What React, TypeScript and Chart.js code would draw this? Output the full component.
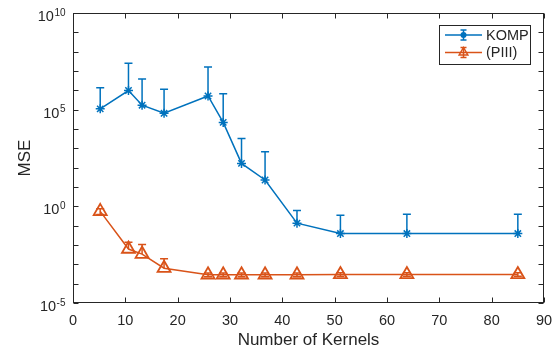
import React, { useEffect, useRef } from 'react';
import { Chart, registerables } from 'chart.js';

Chart.register(...registerables);

// ---- data ----
const kernels = [5.2, 10.6, 13.2, 17.4, 25.8, 28.7, 32.2, 36.7, 42.8, 51.1, 63.8, 85.0];
const kompMse = [1.1e5, 9.8e5, 1.7e5, 6.5e4, 5.1e5, 2.2e4, 166, 23, 0.135, 0.039, 0.039, 0.039];
const kompUpper = [1.35e6, 2.5e7, 3.8e6, 1.15e6, 1.6e7, 6.6e5, 3.2e3, 660, 0.6, 0.35, 0.39, 0.39];
const piiiMse = [0.55, 0.0062, 0.0034, 0.00063, 0.00029, 0.00029, 0.00029, 0.00029, 0.00029, 0.0003, 0.0003, 0.0003];
const piiiUpper = [0.75, 0.014, 0.0105, 0.00195, 0.00036, 0.00036, 0.00036, 0.00036, 0.00036, 0.00037, 0.00037, 0.00037];
const piiiLower = [0.38, null, null, null, 0.00023, 0.00023, 0.00023, 0.00023, 0.00023, 0.00024, 0.00024, 0.00024];
const xTicks = [0, 10, 20, 30, 40, 50, 60, 70, 80, 90];
const yTickExponents = [-5, 0, 5, 10];
const yMinorExponents = [-5, -4, -3, -2, -1, 0, 1, 2, 3, 4, 5, 6, 7, 8, 9, 10];
const seriesNames = ['KOMP', '(PIII)'];
const xTitle = 'Number of Kernels';
const yTitle = 'MSE';

const BLUE = '#0072BD';
const ORANGE = '#D95319';
const AXIS = '#262626';
const FONT = '"Liberation Sans", Arial, Helvetica, sans-serif';

function drawTriangle(ctx: CanvasRenderingContext2D, x: number, y: number, r: number) {
  ctx.beginPath();
  ctx.moveTo(x, y - r);
  ctx.lineTo(x + r * 0.866, y + r * 0.5);
  ctx.lineTo(x - r * 0.866, y + r * 0.5);
  ctx.closePath();
  ctx.stroke();
}

const matlabPlugin = {
  id: 'matlabAxes',
  beforeDatasetsDraw(chart: any) {
    const { ctx, scales } = chart;
    const xs = scales.x;
    const ys = scales.y;
    const groups = [
      { color: BLUE, mean: kompMse, upper: kompUpper, lower: null as (number | null)[] | null },
      { color: ORANGE, mean: piiiMse, upper: piiiUpper, lower: piiiLower },
    ];
    ctx.save();
    ctx.lineWidth = 1.5;
    const cap = 4;
    for (const g of groups) {
      ctx.strokeStyle = g.color;
      for (let i = 0; i < kernels.length; i++) {
        const px = xs.getPixelForValue(kernels[i]);
        const pm = ys.getPixelForValue(g.mean[i]);
        const pu = ys.getPixelForValue(g.upper[i]);
        const lv = g.lower ? g.lower[i] : null;
        const pl = lv != null ? ys.getPixelForValue(lv) : pm;
        ctx.beginPath();
        ctx.moveTo(px, pl);
        ctx.lineTo(px, pu);
        ctx.moveTo(px - cap, pu);
        ctx.lineTo(px + cap, pu);
        if (lv != null) {
          ctx.moveTo(px - cap, pl);
          ctx.lineTo(px + cap, pl);
        }
        ctx.stroke();
      }
    }
    ctx.restore();
  },
  afterDraw(chart: any) {
    const { ctx, chartArea, scales } = chart;
    const xs = scales.x;
    const ys = scales.y;
    const L = Math.round(chartArea.left) + 0.5;
    const R = Math.round(chartArea.right) - 0.5;
    const T = Math.round(chartArea.top) + 0.5;
    const B = Math.round(chartArea.bottom) - 0.5;
    ctx.save();
    // frame
    ctx.strokeStyle = AXIS;
    ctx.lineWidth = 1;
    ctx.strokeRect(L, T, R - L, B - T);
    // ticks
    const tl = 5;
    ctx.beginPath();
    for (const v of xTicks) {
      const px = Math.round(xs.getPixelForValue(v)) + 0.5;
      ctx.moveTo(px, B); ctx.lineTo(px, B - tl);
      ctx.moveTo(px, T); ctx.lineTo(px, T + tl);
    }
    for (const e of yMinorExponents) {
      const py = Math.round(ys.getPixelForValue(Math.pow(10, e))) + 0.5;
      ctx.moveTo(L, py); ctx.lineTo(L + tl, py);
      ctx.moveTo(R, py); ctx.lineTo(R - tl, py);
    }
    ctx.stroke();

    // x tick labels
    ctx.fillStyle = AXIS;
    ctx.font = `14.5px ${FONT}`;
    ctx.textAlign = 'center';
    ctx.textBaseline = 'alphabetic';
    for (const v of xTicks) {
      ctx.fillText(String(v), xs.getPixelForValue(v), 324.5);
    }
    // y tick labels 10^e
    for (const e of yTickExponents) {
      const py = ys.getPixelForValue(Math.pow(10, e));
      const exp = String(e);
      ctx.font = `10px ${FONT}`;
      const ew = ctx.measureText(exp).width;
      ctx.textAlign = 'left';
      const right = 65.5;
      ctx.fillText(exp, right - ew, py + 2.5);
      ctx.font = `14.5px ${FONT}`;
      ctx.textAlign = 'right';
      ctx.fillText('10', right - ew - 0.5, py + 8);
    }
    // titles
    ctx.font = `17px ${FONT}`;
    ctx.textAlign = 'center';
    ctx.fillText(xTitle, (chartArea.left + chartArea.right) / 2, 344.5);
    ctx.save();
    ctx.translate(29.5, (chartArea.top + chartArea.bottom) / 2);
    ctx.rotate(-Math.PI / 2);
    ctx.fillText(yTitle, 0, 0);
    ctx.restore();

    // legend
    const bx = 439.5, by = 25.5, bw = 91, bh = 39;
    ctx.fillStyle = '#ffffff';
    ctx.fillRect(bx, by, bw, bh);
    ctx.strokeStyle = AXIS;
    ctx.lineWidth = 1;
    ctx.strokeRect(bx, by, bw, bh);
    const rows = [
      { y: 35, color: BLUE, name: seriesNames[0], marker: 'star' },
      { y: 52.5, color: ORANGE, name: seriesNames[1], marker: 'tri' },
    ];
    for (const r of rows) {
      ctx.strokeStyle = r.color;
      ctx.lineWidth = 1.5;
      ctx.beginPath();
      ctx.moveTo(445, r.y); ctx.lineTo(482, r.y);
      ctx.moveTo(463.5, r.y - 5); ctx.lineTo(463.5, r.y + 5);
      ctx.moveTo(460.5, r.y - 5); ctx.lineTo(466.5, r.y - 5);
      ctx.moveTo(460.5, r.y + 5); ctx.lineTo(466.5, r.y + 5);
      ctx.stroke();
      if (r.marker === 'star') {
        ctx.fillStyle = r.color;
        ctx.beginPath();
        ctx.arc(463.5, r.y, 3, 0, Math.PI * 2);
        ctx.fill();
      } else {
        drawTriangle(ctx, 463.5, r.y, 5);
      }
      ctx.fillStyle = AXIS;
      ctx.font = `14.5px ${FONT}`;
      ctx.textAlign = 'left';
      ctx.textBaseline = 'middle';
      ctx.fillText(r.name, 486, r.y + 0.5);
      ctx.textBaseline = 'alphabetic';
    }
    ctx.restore();
  },
};

export default function App() {
  const canvasRef = useRef<HTMLCanvasElement | null>(null);

  useEffect(() => {
    document.body.style.margin = '0';
    const canvas = canvasRef.current;
    if (!canvas) return;
    const chart = new Chart(canvas, {
      type: 'line',
      data: {
        datasets: [
          {
            label: seriesNames[0],
            data: kernels.map((k, i) => ({ x: k, y: kompMse[i] })),
            borderColor: BLUE,
            backgroundColor: BLUE,
            borderWidth: 1.5,
            pointStyle: 'star',
            pointRadius: 4.5,
            pointBorderWidth: 1.5,
            pointBorderColor: BLUE,
            tension: 0,
            fill: false,
          },
          {
            label: seriesNames[1],
            data: kernels.map((k, i) => ({ x: k, y: piiiMse[i] })),
            borderColor: ORANGE,
            backgroundColor: 'rgba(0,0,0,0)',
            borderWidth: 1.5,
            pointStyle: 'triangle',
            pointRadius: 7.5,
            pointBorderWidth: 1.8,
            pointBorderColor: ORANGE,
            pointBackgroundColor: 'rgba(0,0,0,0)',
            tension: 0,
            fill: false,
          },
        ],
      },
      options: {
        animation: false,
        responsive: false,
        maintainAspectRatio: false,
        layout: { padding: { left: 73, top: 13, right: 16, bottom: 49 } },
        scales: {
          x: { type: 'linear', min: 0, max: 90, display: false },
          y: { type: 'logarithmic', min: 1e-5, max: 1e10, display: false },
        },
        plugins: {
          legend: { display: false },
          tooltip: { enabled: false },
        },
        events: [],
      },
      plugins: [matlabPlugin],
    });
    return () => chart.destroy();
  }, []);

  return (
    <div style={{ position: 'absolute', left: 0, top: 0, width: 560, height: 352, background: '#fff' }}>
      <canvas ref={canvasRef} width={560} height={352} style={{ display: 'block', width: 560, height: 352 }} />
    </div>
  );
}
